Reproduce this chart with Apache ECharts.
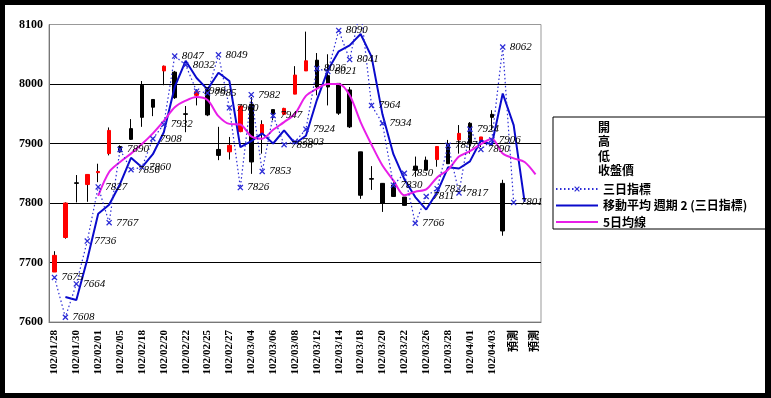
<!DOCTYPE html>
<html>
<head>
<meta charset="utf-8">
<script src="https://cdn.jsdelivr.net/npm/echarts@6/dist/echarts.min.js"></script>
<style>
  html, body { margin: 0; padding: 0; background: #000; }
  #chartArea { position: absolute; left: 5px; top: 5px; width: 760px; height: 388px; background: #fff; }
</style>
</head>
<body>
<div id="chartArea"></div>
<script>
// 日期 (最後三個是預測)
const dates = [
  '102/01/28', '102/01/29', '102/01/30', '102/01/31', '102/02/01', '102/02/04', '102/02/05', '102/02/06',
  '102/02/18', '102/02/19', '102/02/20', '102/02/21', '102/02/22', '102/02/23', '102/02/25', '102/02/26',
  '102/02/27', '102/03/01', '102/03/04', '102/03/05', '102/03/06', '102/03/07', '102/03/08', '102/03/11',
  '102/03/12', '102/03/13', '102/03/14', '102/03/15', '102/03/18', '102/03/19', '102/03/20', '102/03/21',
  '102/03/22', '102/03/25', '102/03/26', '102/03/27', '102/03/28', '102/03/29', '102/04/01', '102/04/02',
  '102/04/03', '102/04/08', '預測', '預測', '預測'
];

// 開 / 收盤價 / 低 / 高
const openData = [7684, 7742, 7834, 7831, 7851, 7883, 7895, 7925, 7998, 7974, 8022, 8020, 7950, 7981, 7991, 7890,
  7886, 7920, 7966, 7917, 7957, 7949, 7983, 8022, 8040, 8014, 8001, 7990, 7886, 7841, 7833, 7830,
  7810, 7862, 7872, 7873, 7900, 7906, 7934, 7904, 7949, 7833];
const closeData = [7712, 7800, 7833, 7848, 7853, 7922, 7886, 7907, 7944, 7961, 8030, 7977, 7949, 7987, 7948, 7880,
  7897, 7963, 7869, 7932, 7949, 7959, 8015, 8039, 7995, 7995, 7951, 7928, 7813, 7840, 7800, 7811,
  7796, 7855, 7855, 7895, 7866, 7917, 7900, 7911, 7944, 7753];
const lowData = [7684, 7740, 7801, 7802, 7835, 7880, 7884, 7906, 7928, 7946, 7998, 7975, 7919, 7964, 7946, 7872,
  7873, 7919, 7849, 7883, 7939, 7949, 7983, 8022, 7981, 7964, 7948, 7926, 7807, 7822, 7785, 7811,
  7796, 7844, 7855, 7861, 7866, 7883, 7883, 7894, 7922, 7745];
const highData = [7719, 7801, 7847, 7848, 7866, 7927, 7897, 7941, 8005, 7974, 8031, 8022, 7963, 7991, 7993, 7928,
  7911, 7964, 7978, 7939, 7957, 7960, 8030, 8088, 8052, 8050, 8001, 7995, 7886, 7862, 7833, 7835,
  7810, 7878, 7878, 7895, 7906, 7931, 7936, 7911, 7956, 7839];

// 三日指標
const threeDay = [7675, 7608, 7664, 7736, 7827, 7767, 7890, 7856, 7860, 7908, 7932, 8047, 8032, 7988, 7985, 8049,
  7960, 7826, 7982, 7853, 7947, 7898, 7903, 7924, 8026, 8021, 8090, 8041, 8127, 7964, 7934, 7830,
  7850, 7766, 7811, 7824, 7897, 7817, 7924, 7890, 7906, 8062, 7801];

// 移動平均 週期 2 (三日指標)
const ma2 = ['-', 7642, 7637, 7705, 7782, 7797, 7832, 7876, 7860, 7882, 7919, 7995, 8039, 8010, 7991, 8019,
  8005, 7894, 7904, 7917, 7900, 7922, 7900, 7913, 7973, 8023, 8055, 8065, 8084, 8046, 7949, 7882,
  7840, 7810, 7789, 7818, 7860, 7858, 7870, 7905, 7898, 7984, 7931, 7802];

// 5日均線
const ma5 = ['-', '-', '-', '-', 7812, 7852, 7869, 7883, 7899, 7917, 7938, 7961, 7972, 7978, 7973, 7946,
  7933, 7932, 7912, 7908, 7923, 7936, 7950, 7980, 7992, 8000, 8000, 7981, 7936, 7898, 7863, 7838,
  7813, 7819, 7823, 7843, 7856, 7878, 7887, 7899, 7908, 7883, 7875, 7869, 7848];

const yMin = 7600;
const yMax = 8100;
const yStep = 100;

const ohlcNames = ['開', '高', '低', '收盤價'];

// 影線: 細柱 (低 -> 高)
let wickData = [];
// 實體: 開 -> 收
let bodyData = [];
for (let i = 0; i < openData.length; i++) {
  wickData.push([lowData[i], highData[i], lowData[i], highData[i]]);
  let lo = Math.min(openData[i], closeData[i]);
  let hi = Math.max(openData[i], closeData[i]);
  bodyData.push([openData[i], closeData[i], lo, hi]);
}

let threeDayData = threeDay.map(function (v) {
  if (v > yMax) {
    return { value: v, symbol: 'none', label: { show: false } };
  }
  return v;
});

const xMark = 'path://M0,1.5L1.5,0L10,8.5L8.5,10ZM8.5,0L10,1.5L1.5,10L0,8.5Z';
const lineIcon = 'path://M0,0L42,0L42,2L0,2Z';
const cjkFont = '"Noto Sans CJK TC", sans-serif';
const numFont = '"Liberation Serif", serif';

const chartDom = document.getElementById('chartArea');
let myChart = echarts.init(chartDom, null, { renderer: 'canvas' });
let option;

let ohlcTexts = ohlcNames.map(function (name, i) {
  return {
    type: 'text',
    left: 593,
    top: 116 + i * 14.6,
    style: { text: name, font: 'bold 12px ' + cjkFont, fill: '#000' },
    z: 101
  };
});

option = {
  animation: false,
  backgroundColor: '#fff',
  grid: {
    left: 44,
    top: 19.5,
    right: 224,
    bottom: 71,
    show: true,
    borderColor: '#999',
    borderWidth: 1
  },
  graphic: [
    {
      type: 'rect',
      shape: { x: 548, y: 112, width: 214, height: 112 },
      style: { fill: '#fff', stroke: '#000', lineWidth: 1 },
      z: 100
    }
  ].concat(ohlcTexts),
  legend: {
    data: [
      { name: '三日指標' },
      { name: '移動平均 週期 2 (三日指標)', icon: lineIcon },
      { name: '5日均線', icon: lineIcon }
    ],
    orient: 'vertical',
    left: 550,
    top: 176,
    itemWidth: 42,
    itemHeight: 7,
    itemGap: 0.5,
    z: 102,
    padding: 0,
    textStyle: { fontFamily: cjkFont, fontSize: 12, fontWeight: 'bold', color: '#000', lineHeight: 16 }
  },
  xAxis: {
    type: 'category',
    data: dates,
    boundaryGap: true,
    axisLine: { lineStyle: { color: '#777' } },
    axisTick: { interval: 0, length: 3, lineStyle: { color: '#777' } },
    axisLabel: {
      interval: 1,
      rotate: 90,
      margin: 8,
      fontFamily: numFont + ', ' + cjkFont,
      fontSize: 11,
      fontWeight: 'bold',
      color: '#000'
    }
  },
  yAxis: {
    type: 'value',
    min: yMin,
    max: yMax,
    interval: yStep,
    axisLine: { show: true, lineStyle: { color: '#777' } },
    axisTick: { show: false },
    axisLabel: {
      margin: 6,
      fontFamily: numFont,
      fontSize: 12,
      fontWeight: 'bold',
      color: '#000',
      formatter: function (v) { return String(v); }
    },
    splitLine: { show: true, showMinLine: false, showMaxLine: false, lineStyle: { color: '#000', width: 1 } }
  },
  series: [
    {
      name: '影線',
      type: 'candlestick',
      data: wickData,
      barWidth: 1,
      z: 2,
      itemStyle: { color: '#000', color0: '#000', borderColor: '#000', borderColor0: '#000', borderWidth: 1 }
    },
    {
      name: '收盤價',
      type: 'candlestick',
      data: bodyData,
      barWidth: 4,
      z: 3,
      itemStyle: { color: '#ff0000', color0: '#000', borderColor: '#ff0000', borderColor0: '#000', borderWidth: 1 }
    },
    {
      name: '三日指標',
      type: 'line',
      data: threeDayData,
      symbol: xMark,
      symbolSize: 6,
      z: 5,
      itemStyle: { color: '#2b2bd6' },
      lineStyle: { color: '#2b2bd6', width: 1.2, type: [1.5, 2.5] },
      label: {
        show: true,
        position: 'right',
        distance: 4,
        color: '#000',
        fontFamily: numFont,
        fontSize: 11,
        fontStyle: 'italic',
        formatter: '{c}'
      }
    },
    {
      name: '移動平均 週期 2 (三日指標)',
      type: 'line',
      data: ma2,
      symbol: 'none',
      z: 4,
      itemStyle: { color: '#0a0acc' },
      lineStyle: { color: '#0a0acc', width: 2 }
    },
    {
      name: '5日均線',
      type: 'line',
      data: ma5,
      symbol: 'none',
      smooth: 0.3,
      z: 4,
      itemStyle: { color: '#e81ee8' },
      lineStyle: { color: '#e81ee8', width: 2 }
    }
  ]
};

option && myChart.setOption(option);
</script>
</body>
</html>
